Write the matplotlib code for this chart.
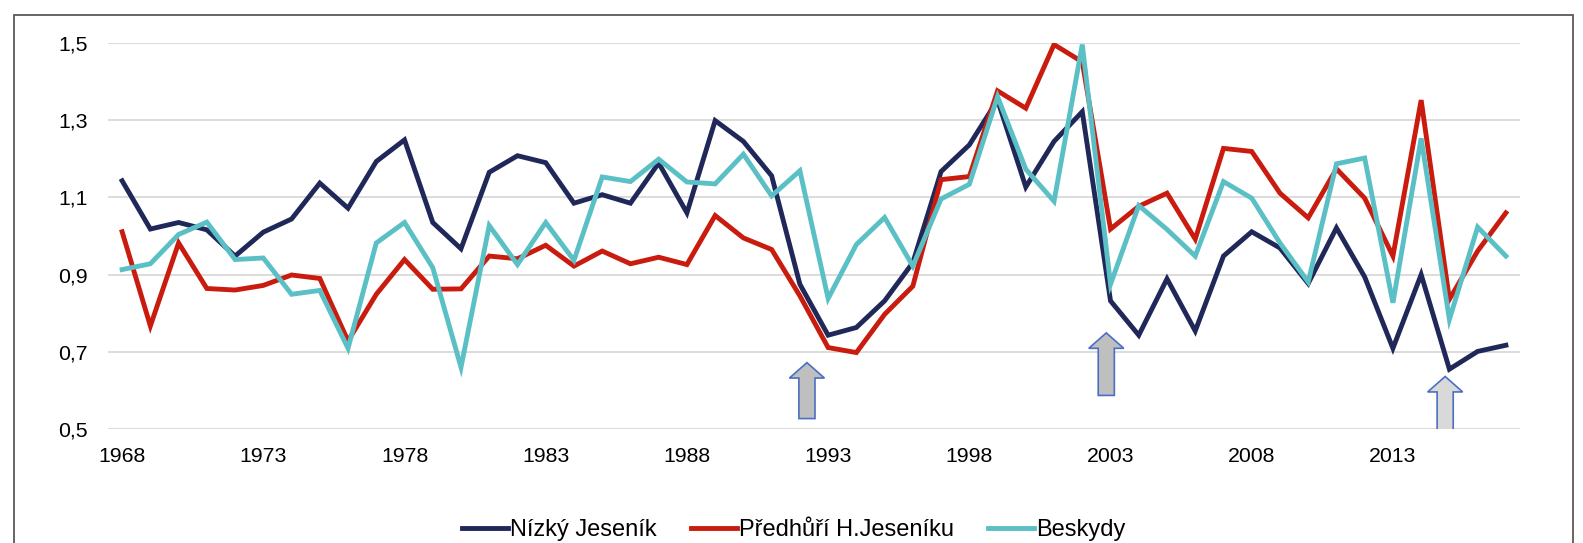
import numpy as np
import matplotlib
matplotlib.use('Agg')
import matplotlib.pyplot as plt
from matplotlib.patches import FancyArrow, Rectangle

plt.rcParams['font.family'] = ['Liberation Sans', 'DejaVu Sans']

# ---- data ----
years = list(range(1968, 2018))
nizky_jesenik = [1.143, 1.018, 1.035, 1.016, 0.948, 1.010, 1.044, 1.137, 1.072, 1.193,
                 1.249, 1.035, 0.967, 1.165, 1.208, 1.190, 1.085, 1.107, 1.085, 1.189,
                 1.060, 1.299, 1.245, 1.156, 0.875, 0.743, 0.763, 0.832, 0.931, 1.167,
                 1.236, 1.352, 1.127, 1.245, 1.322, 0.832, 0.743, 0.889, 0.754, 0.948,
                 1.011, 0.969, 0.877, 1.021, 0.894, 0.709, 0.900, 0.655, 0.701, 0.717]
predhuri = [1.011, 0.767, 0.982, 0.864, 0.860, 0.872, 0.899, 0.890, 0.728, 0.849,
            0.939, 0.862, 0.863, 0.948, 0.941, 0.976, 0.922, 0.961, 0.928, 0.945,
            0.926, 1.053, 0.995, 0.965, 0.845, 0.711, 0.698, 0.797, 0.870, 1.146,
            1.154, 1.376, 1.331, 1.496, 1.451, 1.018, 1.077, 1.111, 0.992, 1.227,
            1.219, 1.111, 1.047, 1.174, 1.098, 0.948, 1.352, 0.836, 0.961, 1.060]
beskydy = [0.913, 0.928, 1.004, 1.036, 0.939, 0.943, 0.849, 0.859, 0.709, 0.982,
           1.035, 0.918, 0.660, 1.027, 0.926, 1.035, 0.937, 1.153, 1.141, 1.199,
           1.140, 1.135, 1.212, 1.104, 1.169, 0.838, 0.978, 1.048, 0.922, 1.096,
           1.134, 1.361, 1.173, 1.090, 1.496, 0.875, 1.079, 1.017, 0.948, 1.141,
           1.098, 0.982, 0.881, 1.187, 1.202, 0.827, 1.253, 0.784, 1.023, 0.948]
series = [('Nízký Jeseník', nizky_jesenik, '#1f2859'),
          ('Předhůří H.Jeseníku', predhuri, '#c91c0e'),
          ('Beskydy', beskydy, '#5bc0c5')]

# arrow markers: (year, bottom, top, fill)
arrows = [(1992.25, 0.527, 0.672, '#bfbfbf'),
          (2002.85, 0.587, 0.749, '#bfbfbf'),
          (2014.85, 0.483, 0.636, '#d9d9d9')]

fig = plt.figure(figsize=(15.83, 5.43), dpi=100)
fig.patches.append(Rectangle((14/1583, -0.1), (1573-14)/1583, 1.1 - 15/543,
                             transform=fig.transFigure, fill=False,
                             edgecolor='#595959', linewidth=1.3))
ax = fig.add_axes([108/1583, 1 - 429/543, (1520-108)/1583, (429-43)/543])

for name, vals, col in series:
    ax.plot(years, vals, color=col, lw=3.5, label=name, solid_joinstyle='miter')

for x, y0, y1, fc in arrows:
    ax.add_patch(FancyArrow(x, y0, 0, y1 - y0, width=0.57, head_width=1.24,
                            head_length=0.04, length_includes_head=True,
                            facecolor=fc, edgecolor='#4a6fc4', linewidth=1.2, zorder=5))

ax.set_xlim(1967.5, 2017.5)
ax.set_ylim(0.5, 1.5)
ax.set_yticks([0.5, 0.7, 0.9, 1.1, 1.3, 1.5])
ax.set_yticklabels(['0,5', '0,7', '0,9', '1,1', '1,3', '1,5'])
ax.set_xticks(years[::5])
ax.grid(axis='y', color='#d9d9d9', lw=1.3)
ax.set_axisbelow(True)
for s in ax.spines.values():
    s.set_visible(False)
ax.tick_params(length=0, labelsize=15.3, colors='#000000')
ax.tick_params(axis='y', pad=14.5)
ax.tick_params(axis='x', pad=13)

fig.legend(loc='center', bbox_to_anchor=(0.5016, 1 - 530/543), ncol=3, frameon=False,
           fontsize=17, handlelength=1.95, handletextpad=0.08, columnspacing=1.45)

fig.savefig('out.png', dpi=100)
